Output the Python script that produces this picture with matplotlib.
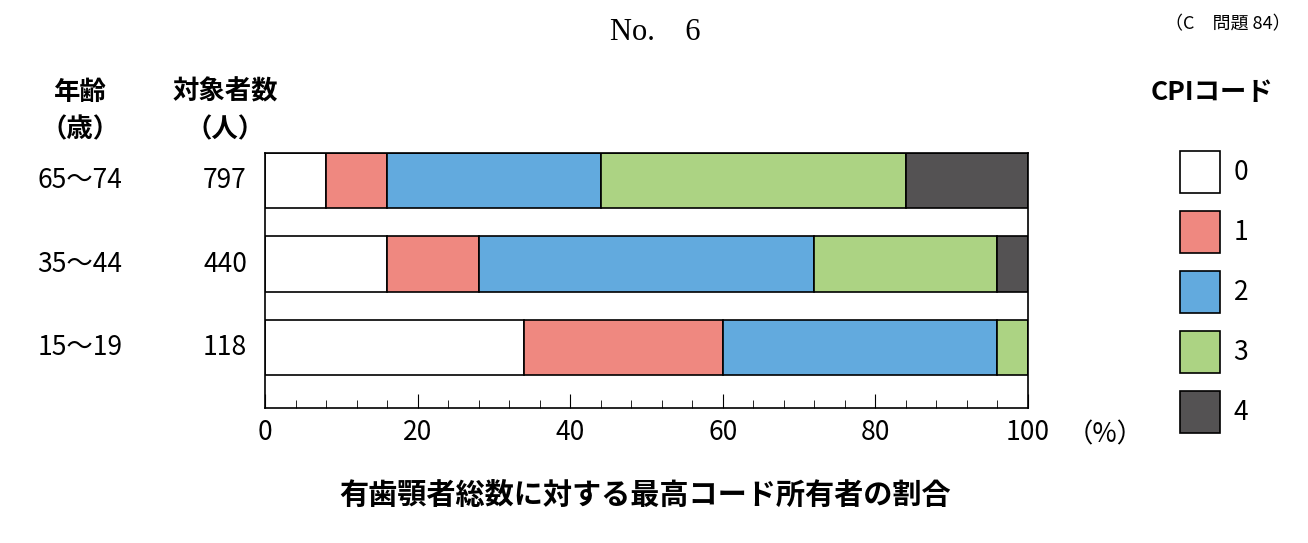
import matplotlib
matplotlib.use("Agg")
import matplotlib.pyplot as plt
from matplotlib.patches import Rectangle
import numpy as np

plt.rcParams['font.family'] = ['Noto Sans CJK JP', 'DejaVu Sans']

ages = ["65～74", "35～44", "15～19"]
counts = ["797", "440", "118"]
codes = ["0", "1", "2", "3", "4"]
colors = ["#ffffff", "#ef8880", "#62aade", "#acd383", "#545253"]
data = {
    "0": [8, 16, 34],
    "1": [8, 12, 26],
    "2": [28, 44, 36],
    "3": [40, 24, 4],
    "4": [16, 4, 0],
}

W, H = 1308, 543
fig = plt.figure(figsize=(W/100, H/100), dpi=100)
ax = fig.add_axes([265/W, 1-408/H, (1028-265)/W, (408-153)/H])
ys = np.arange(3)
left = np.zeros(3)
for c, col in zip(codes, colors):
    v = np.array(data[c], dtype=float)
    ax.barh(ys, v, left=left, height=0.66, color=col, edgecolor="black", linewidth=1.2)
    left += v
ax.set_xlim(0, 100)
ax.set_ylim(2.725, -0.33)
ax.set_yticks([])
ax.set_xticks(np.arange(0, 101, 20))
ax.set_xticks(np.arange(0, 101, 4), minor=True)
ax.tick_params(axis='x', which='major', direction='in', length=10, labelsize=19, pad=8)
ax.tick_params(axis='x', which='minor', direction='in', length=6)
for s in ax.spines.values():
    s.set_linewidth(1.2)

def ft(x, y, s, size=19, **kw):
    fig.text(x/W, 1-y/H, s, fontsize=size, ha='center', va='center', **kw)

ft(1105, 435, "（%）")
ft(655, 32, "No.　6", size=22, family=['Liberation Serif', 'Noto Sans CJK JP'])
ft(1228, 24, "（C　問題 84）", size=13)
ft(80, 92, "年齢", weight='bold'); ft(80, 130, "（歳）", weight='bold')
ft(225, 92, "対象者数", weight='bold'); ft(225, 130, "（人）", weight='bold')
ft(1212, 92, "CPIコード", weight='bold')
for i, (a, n) in enumerate(zip(ages, counts)):
    y = 180.5 + i*83.5
    ft(80, y, a); ft(225, y, n)
for i, (c, col) in enumerate(zip(codes, colors)):
    yc = 172 + i*60
    fig.patches.append(Rectangle((1180/W, 1-(yc+21)/H), 40/W, 42/H, transform=fig.transFigure,
                                 facecolor=col, edgecolor='black', linewidth=1.2))
    ft(1241, yc, c)
ft(645, 495, "有歯顎者総数に対する最高コード所有者の割合", size=21, weight='bold')
fig.savefig("out.png", dpi=100)
